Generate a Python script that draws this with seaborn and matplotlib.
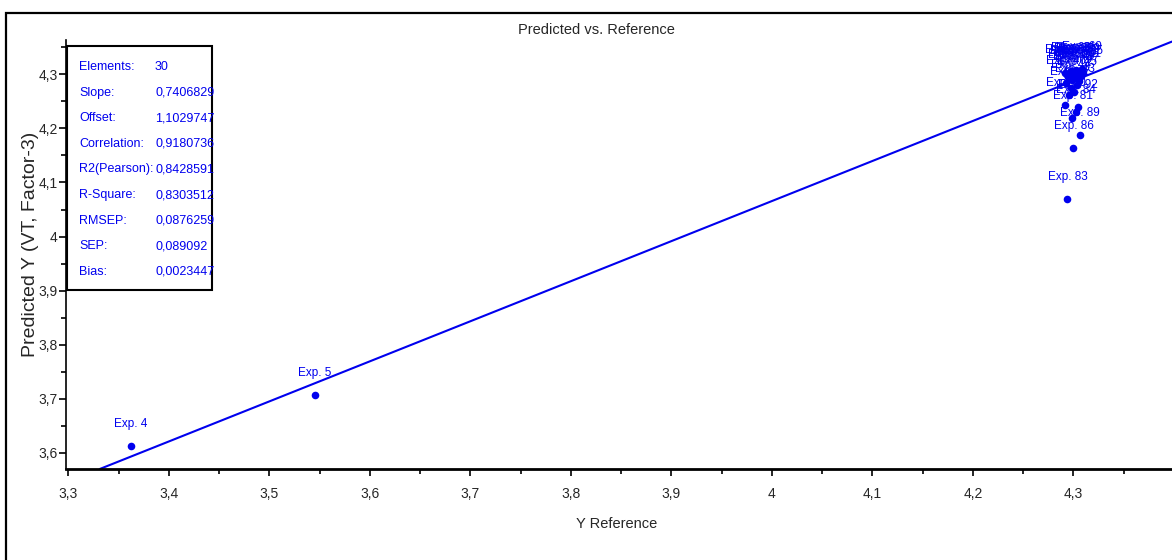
import matplotlib
matplotlib.use("Agg")
import matplotlib.pyplot as plt
from matplotlib.patches import Rectangle
from matplotlib.ticker import MultipleLocator, FuncFormatter
import seaborn as sns
import pandas as pd

# Samples: reference value vs. predicted value
labels = [
    "Exp. 4", "Exp. 5", "Exp. 83", "Exp. 86", "Exp. 89", "Exp. 81", "Exp. 84",
    "Exp. 80", "Exp. 92", "Exp. 42", "Exp. 43", "Exp. 44", "Exp. 45", "Exp. 46",
    "Exp. 47", "Exp. 48", "Exp. 49", "Exp. 50", "Exp. 51", "Exp. 52", "Exp. 53",
    "Exp. 54", "Exp. 55", "Exp. 56", "Exp. 57", "Exp. 58", "Exp. 59", "Exp. 60",
    "Exp. 61", "Exp. 69",
]
y_reference = [
    3.362, 3.545, 4.294, 4.300, 4.306, 4.299, 4.302,
    4.292, 4.304, 4.296, 4.301, 4.298, 4.303, 4.293,
    4.305, 4.299, 4.301, 4.295, 4.307, 4.300, 4.303,
    4.297, 4.309, 4.292, 4.304, 4.300, 4.306, 4.298,
    4.302, 4.308,
]
y_predicted = [
    3.613, 3.707, 4.069, 4.163, 4.187, 4.219, 4.230,
    4.243, 4.239, 4.262, 4.268, 4.275, 4.281, 4.284,
    4.287, 4.290, 4.293, 4.295, 4.296, 4.298, 4.300,
    4.301, 4.302, 4.303, 4.304, 4.305, 4.306, 4.307,
    4.308, 4.309,
]

# Regression summary
stat_names = ["Elements:", "Slope:", "Offset:", "Correlation:", "R2(Pearson):",
              "R-Square:", "RMSEP:", "SEP:", "Bias:"]
stat_values = ["30", "0,7406829", "1,1029747", "0,9180736", "0,8428591",
               "0,8303512", "0,0876259", "0,089092", "0,0023447"]
slope = 0.7406829
offset = 1.1029747

BLUE = "#0000ee"
FONT = ["Liberation Sans", "DejaVu Sans"]

sns.set_style("white")
plt.rcParams["font.family"] = FONT

df = pd.DataFrame({"ref": y_reference, "pred": y_predicted, "label": labels})

fig = plt.figure(figsize=(11.72, 5.6), dpi=100)
W, H = 1172, 560
ax = fig.add_axes([66 / W, 1 - 469 / H, (W - 66) / W, (469 - 40) / H])

sns.scatterplot(data=df, x="ref", y="pred", ax=ax, color=BLUE, s=30,
                edgecolor=BLUE, linewidth=0, zorder=3)
ax.axline((0, offset), slope=slope, color=BLUE, linewidth=1.5, zorder=2)

for r, p, lab in zip(df["ref"], df["pred"], df["label"]):
    ax.annotate(lab, (r, p), xytext=(0, 14), textcoords="offset points",
                ha="center", va="baseline", color=BLUE, fontsize=8.5)

ax.set_xlim(3.2977, 4.398)
ax.set_ylim(3.5704, 4.3634)

comma = FuncFormatter(lambda v, _: ("%g" % round(v, 3)).replace(".", ","))
ax.xaxis.set_major_locator(MultipleLocator(0.1))
ax.xaxis.set_minor_locator(MultipleLocator(0.05))
ax.yaxis.set_major_locator(MultipleLocator(0.1))
ax.yaxis.set_minor_locator(MultipleLocator(0.05))
ax.xaxis.set_major_formatter(comma)
ax.yaxis.set_major_formatter(comma)
ax.tick_params(axis="both", which="major", direction="out", length=5, width=1.2,
               labelsize=10, color="black")
ax.tick_params(axis="x", which="major", pad=8)
ax.tick_params(axis="y", which="major", pad=1)
ax.tick_params(axis="both", which="minor", direction="out", length=3.5,
               width=1.2, color="black")
ax.tick_params(axis="x", bottom=True, which="both")
ax.tick_params(axis="y", left=True, which="both")

for side in ("top", "right"):
    ax.spines[side].set_visible(False)
ax.spines["bottom"].set_linewidth(2.0)
ax.spines["left"].set_linewidth(1.2)
ax.spines["bottom"].set_color("black")
ax.spines["left"].set_color("black")

ax.set_xlabel("")
ax.set_ylabel("")
fig.text(617 / W, 1 - 524 / H, "Y Reference", ha="center", va="center",
         fontsize=10.5)
fig.text(31 / W, 1 - 244 / H, "Predicted Y (VT, Factor-3)", rotation=90,
         ha="center", va="center", fontsize=14)
fig.text(596 / W, 1 - 30 / H, "Predicted vs. Reference", ha="center",
         va="center", fontsize=10.5)

# Statistics panel
box = Rectangle((67 / W, 1 - 290 / H), (212 - 67) / W, (290 - 46) / H,
                transform=fig.transFigure, facecolor="white",
                edgecolor="black", linewidth=1.5, zorder=5)
fig.add_artist(box)
for i, (name, val) in enumerate(zip(stat_names, stat_values)):
    y = 1 - (67 + i * 25.6) / H
    fig.text(79 / W, y, name, ha="left", va="center", color=BLUE,
             fontsize=9, zorder=6)
    fig.text(155 / W, y, val, ha="left", va="center", color=BLUE,
             fontsize=9, zorder=6)

# Outer frame
frame = Rectangle((6 / W, -0.1), 1.2, 1.1 - 13 / H, transform=fig.transFigure,
                  fill=False, edgecolor="black", linewidth=1.6)
fig.add_artist(frame)

fig.savefig("out.png", dpi=100)
